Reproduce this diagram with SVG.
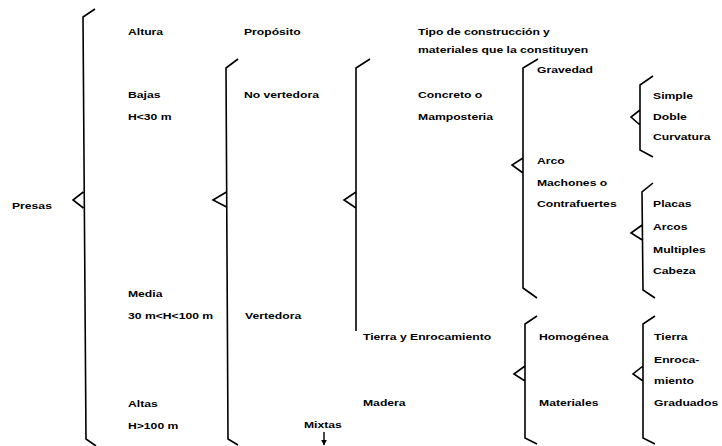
<svg xmlns="http://www.w3.org/2000/svg" width="722" height="446" viewBox="0 0 722 446">
<style>
.t{font-family:"Liberation Sans",Arial,sans-serif;font-size:9.5px;font-weight:bold;fill:#000}
.b{fill:none;stroke:#000;stroke-width:1.6;stroke-linejoin:miter;stroke-linecap:butt}
</style>
<defs>
<marker id="ah" viewBox="0 0 10 10" refX="9" refY="5" markerWidth="6" markerHeight="6" orient="auto" markerUnits="userSpaceOnUse">
<path d="M0,0 L10,5 L0,10 Z" fill="#000"/>
</marker>
</defs>
<rect width="722" height="446" fill="#fff"/>
<g id="connectors">
<path class="b" d="M95,9 L83,17 L86,439 L96,446 M83.3,192 L73,200 L83.4,208"/>
<path class="b" d="M238,59 L226,68 L228,439 L238,445 M226.5,192 L213,200 L226.6,207"/>
<path class="b" d="M370,59 L356,68 L356,331 M356,192 L344,200 L356,208"/>
<path class="b" d="M538,59 L523,68 L523,288 L537,298 M523,158 L512,165 L523,173"/>
<path class="b" d="M653,76 L640,85 L640,150 L653,157 M640,110 L631,117 L640,125"/>
<path class="b" d="M653,183 L642,192 L643,290 L655,298 M642.2,225 L631,233 L642.3,240"/>
<path class="b" d="M537,316 L525,324 L525,438 L537,444 M525,366 L514,374 L525,381"/>
<path class="b" d="M655,316 L643,324 L643,438 L655,444 M643,366 L633,374 L643,381"/>
<line x1="324" y1="432" x2="324" y2="445" stroke="#000" stroke-width="1.4" marker-end="url(#ah)"/>
</g>
<g transform="scale(1.28 1)">
<g id="presas"><text class="t" x="9.4" y="209">Presas</text></g>
<g id="altura"><text class="t" x="100" y="35">Altura</text></g>
<g id="bajas"><text class="t" x="100" y="98">Bajas</text><text class="t" x="100" y="120">H&lt;30 m</text></g>
<g id="media"><text class="t" x="100" y="297">Media</text><text class="t" x="100" y="319">30 m&lt;H&lt;100 m</text></g>
<g id="altas"><text class="t" x="100" y="407">Altas</text><text class="t" x="100" y="429">H&gt;100 m</text></g>
<g id="proposito"><text class="t" x="190.6" y="35">Propósito</text></g>
<g id="noverte"><text class="t" x="190.6" y="98">No vertedora</text></g>
<g id="verte"><text class="t" x="191.5" y="319">Vertedora</text></g>
<g id="mixtas"><text class="t" x="237.5" y="428">Mixtas</text></g>
<g id="tipo"><text class="t" x="326.6" y="35" textLength="103" lengthAdjust="spacing">Tipo de construcción y</text><text class="t" x="326.6" y="53">materiales que la constituyen</text></g>
<g id="concreto"><text class="t" x="326.6" y="98">Concreto o</text><text class="t" x="326.6" y="120">Mamposteria</text></g>
<g id="tierraenro"><text class="t" x="283.6" y="340">Tierra y Enrocamiento</text></g>
<g id="madera"><text class="t" x="283.6" y="406">Madera</text></g>
<g id="gravedad"><text class="t" x="419.5" y="73">Gravedad</text></g>
<g id="arco"><text class="t" x="419.5" y="164">Arco</text></g>
<g id="machones"><text class="t" x="419.5" y="186">Machones o</text><text class="t" x="419.5" y="207">Contrafuertes</text></g>
<g id="simple"><text class="t" x="510.2" y="99">Simple</text></g>
<g id="doble"><text class="t" x="510.2" y="120">Doble</text></g>
<g id="curvatura"><text class="t" x="510.2" y="140">Curvatura</text></g>
<g id="placas"><text class="t" x="510.2" y="207">Placas</text></g>
<g id="arcos"><text class="t" x="510.2" y="230">Arcos</text></g>
<g id="multiples"><text class="t" x="510.2" y="253">Multiples</text></g>
<g id="cabeza"><text class="t" x="510.2" y="274">Cabeza</text></g>
<g id="homogenea"><text class="t" x="421.1" y="340">Homogénea</text></g>
<g id="materiales"><text class="t" x="421.1" y="406">Materiales</text></g>
<g id="tierra"><text class="t" x="511" y="340">Tierra</text></g>
<g id="enroca"><text class="t" x="511" y="363">Enroca-</text><text class="t" x="511" y="384">miento</text></g>
<g id="graduados"><text class="t" x="511" y="406">Graduados</text></g>
</g>
</svg>
